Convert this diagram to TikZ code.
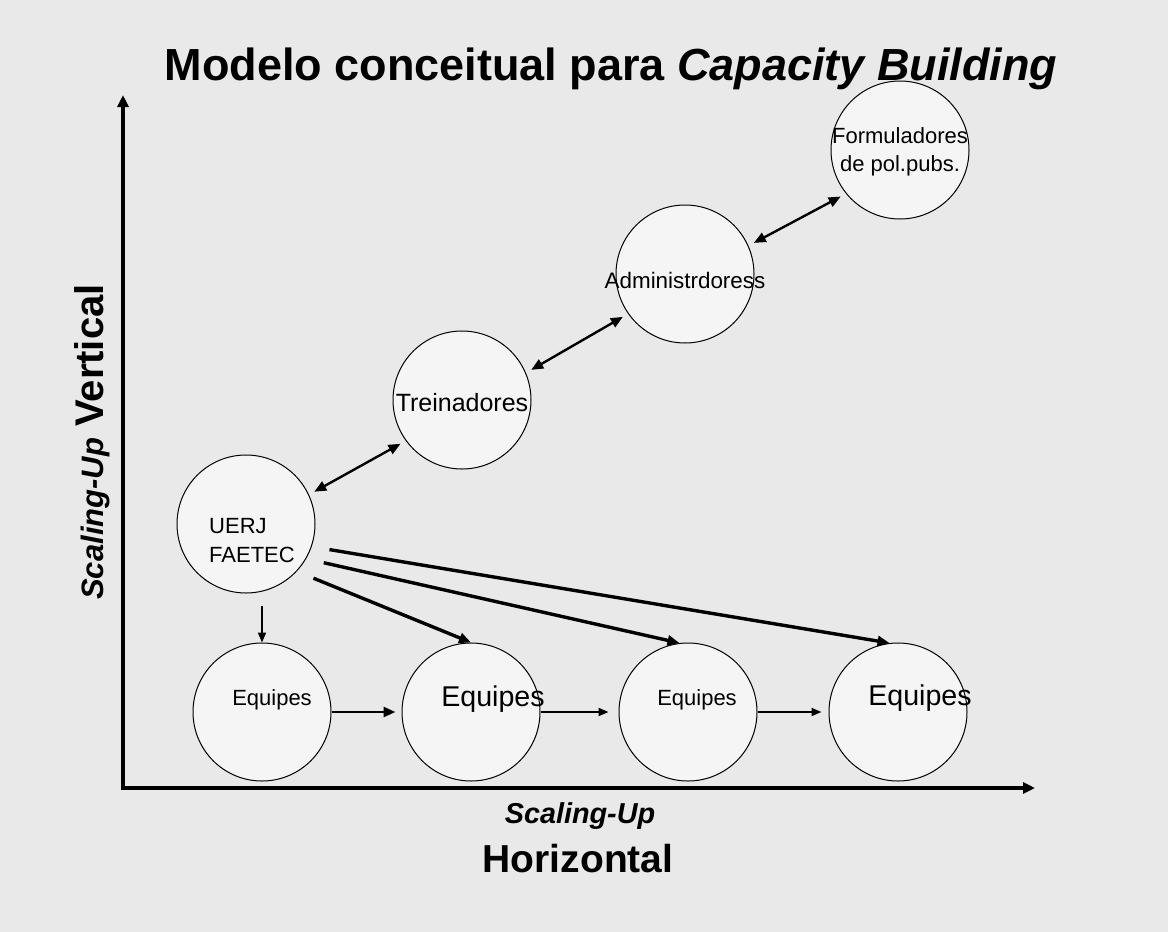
\documentclass[tikz,border=0pt]{standalone}
\usepackage{fontspec}
\setmainfont{Liberation Sans}
\usepackage{tikz}
\usetikzlibrary{arrows.meta}
\definecolor{background}{HTML}{E9E9E9}
\definecolor{bubblefill}{HTML}{F5F5F5}
\newcommand{\fsz}[2]{\fontsize{#1}{#2}\selectfont}

\begin{document}
\begin{tikzpicture}[
    x=0.5pt, y=-0.5pt,
    >={Triangle[length=6pt, width=5pt]},
    bubble/.style={circle, draw, fill=bubblefill, line width=0.5pt, minimum size=69pt, inner sep=0pt},
    small/.style={font=\fsz{11}{14}},
    big/.style={font=\fsz{14.3}{17}},
    axis/.style={<->, line width=1.7pt, >={Triangle[length=6pt, width=5.5pt]}},
    link/.style={<->, line width=1.2pt, shorten <=3pt, shorten >=3pt},
    feed/.style={->, line width=1.7pt, shorten <=9pt},
    flow/.style={->, line width=0.9pt, >={Triangle[length=5pt, width=4pt]}}
]

% Slide background
\fill[background] (0,0) rectangle (1168,932);

% Title
\node[anchor=base, font=\fsz{22.5}{27}\bfseries] (title) at (611,80) {Modelo conceitual para \textit{Capacity Building}};

% Axes
\coordinate (origin) at (123,788);
\coordinate (ytop) at (123,95);
\coordinate (xend) at (1035,788);
\draw[axis] (ytop) |- (xend);

% Axis labels
\node[rotate=90, anchor=base, font=\fsz{20}{24}\bfseries] (vlabel) at (103,442) {{\fsz{15.5}{18}\itshape Scaling-Up} Vertical};
\node[anchor=base, font=\fsz{14.4}{17}\bfseries\itshape] (hscale) at (580,823) {Scaling-Up};
\node[anchor=base, font=\fsz{19.5}{23}\bfseries] (hlabel) at (578,872) {Horizontal};

% Vertical chain
\node[bubble, label={[small, font=\fsz{11}{14.5}, align=left, xshift=3pt, yshift=-8.5pt]center:UERJ\\FAETEC}] (uerj) at (246,524) {};
\node[bubble, label={[font=\fsz{12.5}{15}, yshift=-1.5pt]center:Treinadores}] (trein) at (462,400) {};
\node[bubble, label={[font=\fsz{11.2}{14}, yshift=-3pt]center:Administrdoress}] (admin) at (685,274) {};
\node[bubble, label={[small, align=center, yshift=-1pt]center:Formuladores\\de pol.pubs.}] (form) at (900,150) {};

% Horizontal row
\node[bubble, label={[small, xshift=5pt, yshift=6pt]center:Equipes}] (eq1) at (262,712) {};
\node[bubble, label={[big, xshift=11pt, yshift=6.5pt]center:Equipes}] (eq2) at (471,712) {};
\node[bubble, label={[small, xshift=4.5pt, yshift=6pt]center:Equipes}] (eq3) at (688,712) {};
\node[bubble, label={[big, xshift=11pt, yshift=7pt]center:Equipes}] (eq4) at (898,712) {};

% Links between levels
\draw[link] (uerj.25) -- (trein.216);
\draw[link] (trein.23) -- (admin.215);
\draw[link] (admin.24) -- (form.219);

% UERJ to the teams
\draw[flow, shorten <=6pt] (eq1.north |- uerj.south) -- (eq1.north);
\draw[feed] (uerj.-43) -- (eq2.north);
\draw[feed] (uerj.-30) -- (eq3.97);
\draw[feed] (uerj.-19) -- (eq4.97);

% Along the row
\draw[->, line width=1.3pt, shorten >=3pt] (eq1) -- (eq2);
\draw[flow, shorten >=5pt] (eq2) -- (eq3);
\draw[flow, shorten >=3.5pt] (eq3) -- (eq4);

\end{tikzpicture}
\end{document}
